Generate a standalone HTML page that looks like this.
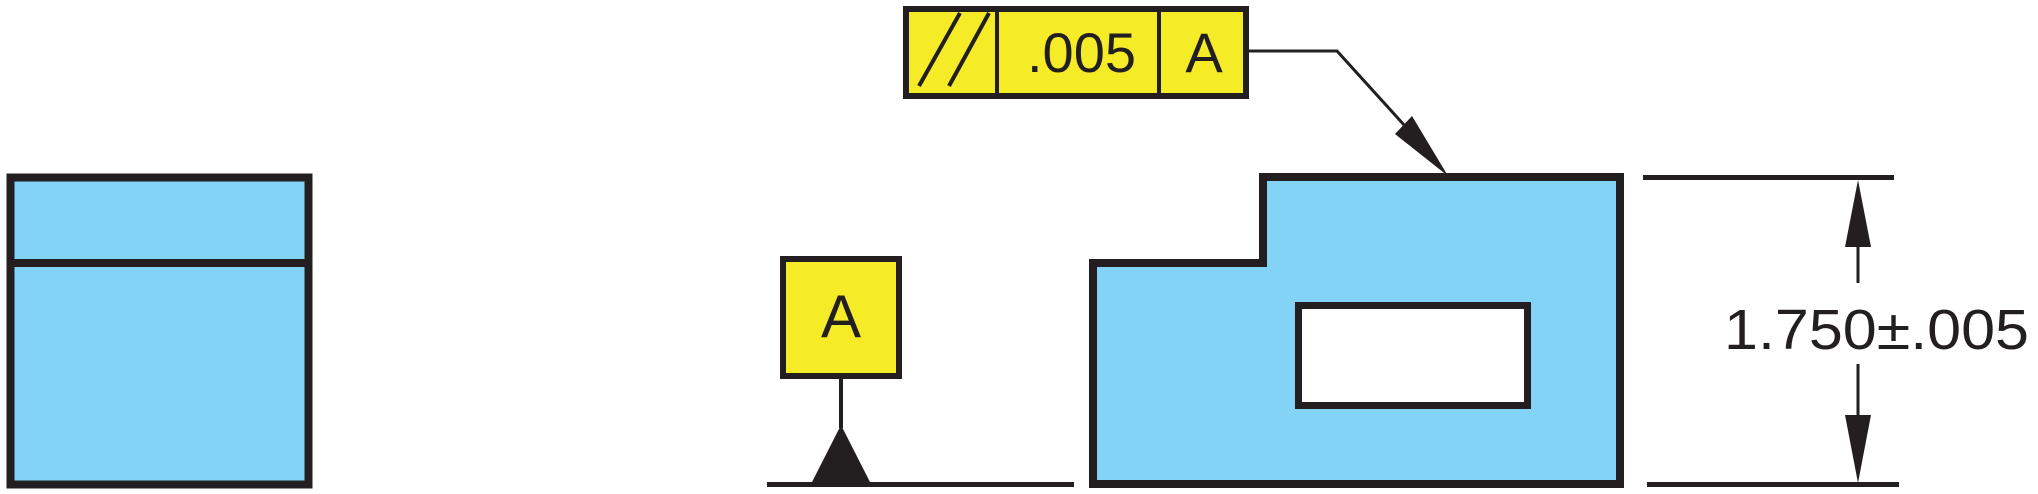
<!DOCTYPE html>
<html><head><meta charset="utf-8"><style>
html,body{margin:0;padding:0;background:#fff;}
svg{display:block;}
text{font-family:"Liberation Sans",Arial,sans-serif;fill:#231f20;}
</style></head><body>
<svg width="2038" height="494" viewBox="0 0 2038 494" xmlns="http://www.w3.org/2000/svg">
<g stroke="#231f20" stroke-linejoin="miter">
<!-- left part -->
<rect x="10.5" y="177.5" width="298" height="307" fill="#83d3f7" stroke-width="8"/>
<line x1="10" y1="263" x2="309" y2="263" stroke-width="8"/>
<!-- datum feature symbol -->
<rect x="783" y="259" width="116" height="117" fill="#f5ec27" stroke-width="6"/>
<line x1="841" y1="379" x2="841" y2="428" stroke-width="4"/>
<polygon points="841,425 811,484 871,484" fill="#231f20" stroke="none"/>
<line x1="767" y1="484.5" x2="1074" y2="484.5" stroke-width="5"/>
<!-- feature control frame -->
<rect x="906" y="9" width="340" height="87" fill="#f5ec27" stroke-width="6"/>
<line x1="997" y1="9" x2="997" y2="96" stroke-width="4"/>
<line x1="1159" y1="9" x2="1159" y2="96" stroke-width="4"/>
<line x1="960" y1="13" x2="919" y2="86" stroke-width="4"/>
<line x1="989" y1="13" x2="949" y2="86" stroke-width="4"/>
<!-- leader -->
<polyline points="1248,51 1337,51 1405,126" fill="none" stroke-width="3"/>
<polygon points="1448,176 1395,134 1412,116" fill="#231f20" stroke="none"/>
<!-- right part -->
<polygon points="1093,484 1093,263 1263,263 1263,177 1620,177 1620,484" fill="#83d3f7" stroke-width="8"/>
<rect x="1298.5" y="305.5" width="229" height="100" fill="#fff" stroke-width="7"/>
<!-- dimension -->
<line x1="1643" y1="177.5" x2="1894" y2="177.5" stroke-width="5"/>
<line x1="1647" y1="484.5" x2="1899" y2="484.5" stroke-width="5"/>
<line x1="1858" y1="240" x2="1858" y2="283" stroke-width="3"/>
<line x1="1858" y1="364" x2="1858" y2="420" stroke-width="3"/>
<polygon points="1858,180 1845,247 1871,247" fill="#231f20" stroke="none"/>
<polygon points="1858,483 1845,415 1871,415" fill="#231f20" stroke="none"/>
</g>
<text x="841" y="337" font-size="60" text-anchor="middle">A</text>
<text x="1027" y="72" font-size="56">.005</text>
<text x="1204" y="72" font-size="56" text-anchor="middle">A</text>
<text x="1724" y="349" font-size="57" textLength="305" lengthAdjust="spacingAndGlyphs">1.750±.005</text>
</svg>
</body></html>
